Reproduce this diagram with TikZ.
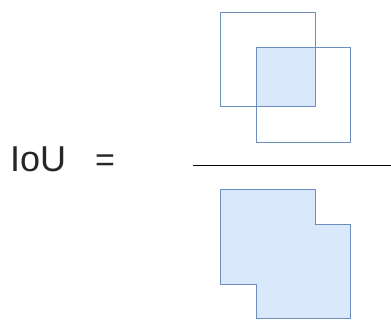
\documentclass[tikz,border=0pt]{standalone}
\usepackage{fontspec}
\setmainfont{Liberation Sans}
\definecolor{boxline}{HTML}{6C8EBF}
\definecolor{boxfill}{HTML}{DAE8FC}
\tikzset{
  box/.style={draw=boxline, line width=1pt},
  lbl/.style={inner sep=0pt, text=black!85}
}
\begin{document}
\begin{tikzpicture}[x=1pt,y=1pt]
\useasboundingbox (0,0) rectangle (391,320);
% intersection fill
\fill[boxfill] (256.3,213.7) rectangle (315.3,272.3);
% square A
\draw[box] (220.7,213.3) rectangle (315.3,307.7);
% square B
\draw[box] (256.3,177.7) rectangle (350.7,272.3);
% union shape
\draw[box, fill=boxfill] (220.7,130.3) -- (315.3,130.3) -- (315.3,95) -- (350.7,95) -- (350.7,1) -- (256.3,1) -- (256.3,35.7) -- (220.7,35.7) -- cycle;
% fraction line
\coordinate (l1) at (192.7,154);
\coordinate (l2) at (391,154);
\draw[line width=1pt] (l1) -- (l2);
% text
\node[lbl, font=\fontsize{36}{36}\selectfont, anchor=base west] (iou) at (10,148.3) {IoU};
\node[lbl, font=\fontsize{34}{34}\selectfont, anchor=center] (eq) at (105,156.6) {=};
\end{tikzpicture}
\end{document}
